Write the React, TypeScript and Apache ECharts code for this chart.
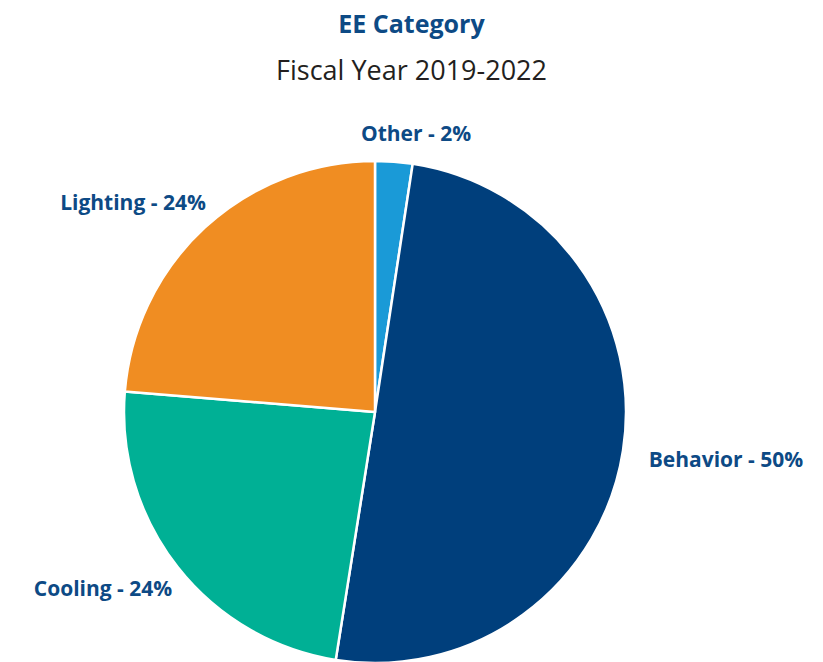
import React, { useEffect, useRef } from "react";
import * as echarts from "echarts";

const categories = ["Other", "Behavior", "Cooling", "Lighting"];
const values = [2.4, 50.1, 23.8, 23.7];
const labelPercents = [2, 50, 24, 24];
const colors = ["#1a9ad7", "#003f7c", "#00b095", "#f08d22"];
const labelPos = [
  [416, 133],
  [726, 459],
  [103, 588],
  [133, 202],
];

export default function App() {
  const ref = useRef<HTMLDivElement>(null);
  useEffect(() => {
    document.body.style.margin = "0";
    const chart = echarts.init(ref.current!, null, { renderer: "svg" });
    chart.setOption({
      animation: false,
      backgroundColor: "#ffffff",
      title: [
        {
          text: "EE Category",
          left: "center",
          top: 5,
          textStyle: {
            fontFamily: "Open Sans",
            fontWeight: "bold",
            fontSize: 25,
            color: "#0d4a85",
            letterSpacing: -0.3,
          },
        },
        {
          text: "Fiscal Year 2019-2022",
          left: "center",
          top: 51,
          textStyle: {
            fontFamily: "Open Sans",
            fontWeight: "normal",
            fontSize: 27,
            color: "#231f20",
            letterSpacing: -0.1,
          },
        },
      ],
      series: [
        {
          type: "pie",
          center: [375, 412],
          radius: 251,
          startAngle: 90,
          clockwise: true,
          itemStyle: { borderColor: "#ffffff", borderWidth: 2.5 },
          label: {
            show: true,
            position: "outside",
            fontFamily: "Open Sans",
            fontWeight: "bold",
            fontSize: 21,
            color: "#0d4a85",
            letterSpacing: 0,
            overflow: "none",
            formatter: (p: any) => `${p.name} - ${labelPercents[p.dataIndex]}%`,
          },
          labelLine: { show: false },
          labelLayout: (p: any) => ({
            x: labelPos[p.dataIndex][0],
            y: labelPos[p.dataIndex][1],
            align: "center",
            verticalAlign: "middle",
          }),
          data: categories.map((c, i) => ({
            name: c,
            value: values[i],
            itemStyle: { color: colors[i] },
          })),
        },
      ],
    });
    return () => chart.dispose();
  }, []);
  return <div ref={ref} style={{ width: 823, height: 662 }} />;
}
